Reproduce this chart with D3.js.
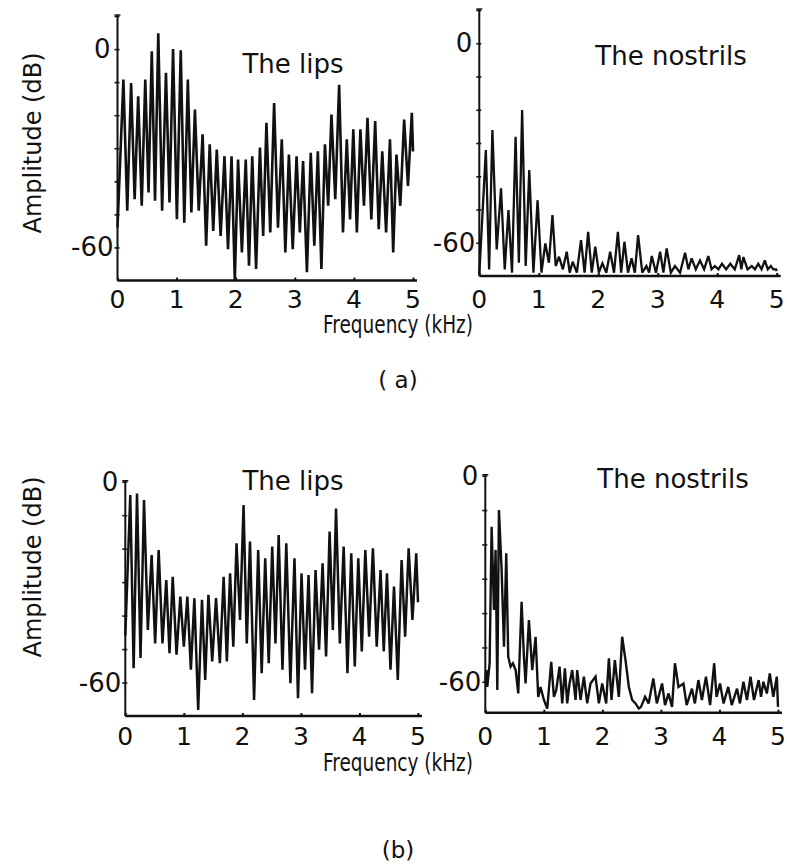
<!DOCTYPE html>
<html><head><meta charset="utf-8">
<script src="https://cdn.jsdelivr.net/npm/d3@7"></script>
<style>
body{margin:0;background:#fff}
svg{display:block}
text{font-family:"DejaVu Sans",sans-serif;fill:#111}
</style>
</head><body>
<svg id="c" width="787" height="867"></svg>
<script>
// ---------- data ----------
const xTickValues = [0, 1, 2, 3, 4, 5];
const yLabelValues = [0, -60];
const titles = ["The lips", "The nostrils"];
const partLabels = ["( a)", "(b)"];

// (a) lips: harmonic peaks (kHz, dB) and troughs between them (dB)
const lipsA_freq = [0.10,0.23,0.35,0.47,0.58,0.69,0.82,0.94,1.07,1.19,1.31,1.44,1.56,1.68,1.81,1.93,2.04,2.17,2.28,2.41,2.52,2.65,2.78,2.90,3.03,3.14,3.27,3.39,3.51,3.62,3.75,3.88,3.99,4.11,4.23,4.36,4.48,4.61,4.72,4.85,4.98];
const lipsA_peak = [-9.2,-10.3,-14.3,-9.2,-0.7,4.8,-7.2,0,-0.4,-9.2,-18.3,-25.8,-28.8,-30.4,-32.4,-32.4,-33.4,-33.4,-32.4,-29.8,-22.3,-16.3,-27.3,-31.9,-32.4,-33.9,-31.4,-30.9,-28.8,-19.8,-10.8,-27.3,-24.3,-24.3,-20.8,-21.8,-30.9,-27.3,-31.9,-21.3,-19.3];
const lipsA_trough = [-54,-48.9,-45.4,-47.4,-43.4,-45.9,-48.9,-46.4,-51.5,-52.5,-49.4,-48.9,-59.5,-55,-56.5,-60.5,-70,-61.5,-65.5,-66.5,-56.5,-55.5,-54,-61.5,-60.5,-55.5,-67.5,-59.5,-66.5,-47.4,-45.4,-55.5,-51.5,-55.5,-47.4,-51.5,-54.5,-55.5,-61.5,-47.4,-41.4,-31];

// (a) nostrils
const nosA_freq = [0.11,0.22,0.365,0.49,0.61,0.72,0.84,0.98,1.11,1.23,1.34,1.47,1.57,1.71,1.83,1.95,2.07,2.20,2.33,2.44,2.56,2.67,2.81,2.90,3.04,3.15,3.29,3.46,3.57,3.71,3.85,3.96,4.08,4.22,4.37,4.44,4.58,4.69,4.80,4.90,4.99];
const nosA_peak = [-32.1,-26.1,-43.6,-50.2,-28.1,-20.1,-38.1,-47.2,-60.2,-51.7,-64.2,-62.7,-65.7,-59.2,-56.7,-61.2,-66.2,-62.7,-56.7,-59.7,-64.7,-57.7,-67,-64,-62.7,-61.7,-67,-63,-64.7,-65.3,-64,-67,-66.3,-66.3,-63.7,-64.3,-67,-66.3,-65.3,-67,-68];
const nosA_trough = [-69.5,-68,-62,-68,-69,-66,-67,-69,-69,-66,-67,-68,-69,-69,-69,-69,-69,-69,-69,-69,-69,-69,-69,-69,-69,-69,-69,-69,-68,-68,-68,-68,-68,-68,-68,-68,-68,-68,-68,-68,-68,-68.5];

// (b) lips
const lipsB_freq = [0.085,0.20,0.32,0.45,0.57,0.70,0.81,0.94,1.06,1.18,1.31,1.42,1.55,1.68,1.79,1.90,2.02,2.13,2.27,2.39,2.51,2.62,2.75,2.89,3.01,3.13,3.25,3.37,3.49,3.60,3.73,3.86,3.98,4.10,4.23,4.36,4.47,4.59,4.72,4.84,4.97];
const lipsB_peak = [-4,-3.5,-5.5,-21.9,-20.4,-29.4,-28.4,-34.3,-34.3,-34.8,-35.3,-33.8,-34.8,-28.4,-27.4,-18.4,-7,-17.9,-20.4,-22.9,-19.4,-15.9,-18.4,-22.9,-27.4,-27.9,-26.4,-24.4,-14.9,-8,-19.4,-21.4,-22.9,-20.4,-19.9,-26.4,-27.4,-31.3,-23.4,-19.9,-21.4];
const lipsB_trough = [-46,-55.7,-52.7,-44.3,-48.3,-48.3,-51.2,-51.7,-49.3,-56.2,-68.2,-59.2,-53.7,-54.2,-53.7,-49.3,-41.3,-48.3,-65.2,-57.2,-54.2,-48.3,-56.2,-60.2,-64.7,-56.2,-63.2,-50.2,-52.2,-44.3,-48.3,-57.2,-55.2,-50.7,-46.3,-49.3,-50.7,-56.2,-59.2,-46.3,-41.3,-36];

// (b) nostrils: traced curve (kHz, dB)
const nosB_freq = [0,0.017,0.034,0.074,0.108,0.148,0.176,0.205,0.233,0.279,0.319,0.358,0.392,0.432,0.472,0.518,0.563,0.620,0.660,0.688,0.745,0.802,0.859,0.904,0.944,1.001,1.058,1.126,1.172,1.212,1.268,1.314,1.360,1.399,1.439,1.485,1.542,1.570,1.627,1.684,1.741,1.797,1.883,1.940,1.997,2.065,2.111,2.156,2.213,2.281,2.338,2.395,2.452,2.509,2.566,2.622,2.66,2.73,2.79,2.87,2.93,3.02,3.07,3.13,3.19,3.24,3.30,3.385,3.44,3.53,3.58,3.64,3.70,3.77,3.84,3.91,3.95,4.01,4.07,4.15,4.21,4.30,4.35,4.41,4.47,4.53,4.59,4.67,4.71,4.75,4.81,4.86,4.92,4.98,5.0];
const nosB_db = [-60,-56.6,-61.5,-54.6,-14.9,-39.1,-21.6,-62.4,-10,-27.5,-49.8,-22.6,-52.7,-55.6,-54.6,-56.6,-63.4,-36.7,-52.7,-60.5,-42,-56.6,-46.9,-64.4,-61.5,-65.3,-67.8,-54.2,-64.4,-62.4,-55.6,-66.3,-56.1,-66.3,-60.5,-56.6,-65.3,-56.6,-65.3,-58.5,-66.3,-60.5,-58.5,-66.3,-60.5,-66.3,-53.2,-65.3,-53.7,-64.4,-46.9,-53.7,-61.5,-65.3,-66.3,-67.8,-67.3,-64.4,-66.3,-59.0,-66.3,-60.5,-66.8,-63.4,-67.3,-54.6,-61.5,-60.5,-66.8,-62.0,-66.3,-59.5,-65.3,-58.5,-66.8,-54.6,-64.4,-60.5,-66.3,-61.5,-66.8,-62.0,-66.3,-60.0,-65.3,-58.5,-65.3,-59.5,-64.4,-60.0,-63.4,-57.6,-64.4,-58.5,-67.3];

// ---------- helpers ----------
function harmonicCurve(freq, peak, trough) {
  const pts = [[0, trough[0]]];
  for (let i = 0; i < freq.length; i++) {
    if (i > 0) pts.push([(freq[i-1] + freq[i]) / 2, trough[i]]);
    pts.push([freq[i], peak[i]]);
  }
  pts.push([Math.min(5, freq[freq.length-1] + 0.03), trough[freq.length]]);
  return pts;
}

// ---------- layout ----------
const panels = [
  {title: titles[0], pts: harmonicCurve(lipsA_freq, lipsA_peak, lipsA_trough),
   xr: [117.5, 413], yd: [-70, 10], yr: [280.5, 16], titleX: 293, titleY: 73, sw: 2.6, lblY: 299, freqY: 325},
  {title: titles[1], pts: harmonicCurve(nosA_freq, nosA_peak, nosA_trough),
   xr: [479.3, 776.7], yd: [-70, 10], yr: [276, 10], titleX: 671, titleY: 65, sw: 2.3, lblY: 299},
  {title: titles[0], pts: harmonicCurve(lipsB_freq, lipsB_peak, lipsB_trough),
   xr: [125.3, 418], yd: [-70, 0], yr: [716, 481.7], titleX: 293, titleY: 490, sw: 2.5, lblY: 736},
  {title: titles[1], pts: nosB_freq.map((f, i) => [f, nosB_db[i]]),
   xr: [485.3, 778], yd: [-69, 0], yr: [712.7, 475.7], titleX: 673, titleY: 488, sw: 2.4, lblY: 736}
];

const svg = d3.select("#c");
const ink = "#111";

panels.forEach((p, pi) => {
  const x = d3.scaleLinear().domain([0, 5]).range(p.xr);
  const y = d3.scaleLinear().domain(p.yd).range(p.yr);
  const g = svg.append("g");
  const x0 = x(0), yb = y(p.yd[0]), yt = y(p.yd[1]);

  // y axis with ticks every 10 dB on both sides
  const yTicks = d3.range(p.yd[1], -61, -10);
  g.append("g").attr("transform", `translate(${x0},0)`)
    .call(d3.axisLeft(y).tickValues(yTicks).tickSize(3).tickSizeOuter(0).tickFormat(""))
    .call(s => s.select(".domain").remove())
    .selectAll("line").attr("stroke", ink).attr("stroke-width", 1.6);
  g.append("g").attr("transform", `translate(${x0},0)`)
    .call(d3.axisRight(y).tickValues(yTicks).tickSize(2).tickSizeOuter(0).tickFormat(""))
    .call(s => s.select(".domain").remove())
    .selectAll("line").attr("stroke", ink).attr("stroke-width", 1.6);
  g.append("line").attr("x1", x0).attr("x2", x0).attr("y1", yt - 1).attr("y2", yb)
    .attr("stroke", ink).attr("stroke-width", 2);
  g.append("line").attr("x1", x0 - 3).attr("x2", x0 + 3).attr("y1", yt - 1).attr("y2", yt - 1)
    .attr("stroke", ink).attr("stroke-width", 1.4);

  // x axis
  g.append("g").attr("transform", `translate(0,${yb})`)
    .call(d3.axisTop(x).tickValues(xTickValues).tickSize(3).tickSizeOuter(0).tickFormat(""))
    .call(s => s.select(".domain").remove())
    .selectAll("line").attr("stroke", ink).attr("stroke-width", 2);
  g.append("line").attr("x1", x0).attr("x2", x(5) + 4).attr("y1", yb).attr("y2", yb)
    .attr("stroke", ink).attr("stroke-width", 2.6);

  // x tick labels
  g.selectAll(".xl").data(xTickValues).enter().append("text")
    .attr("x", d => x(d)).attr("y", p.lblY)
    .attr("text-anchor", "middle").attr("dominant-baseline", "central")
    .style("font-size", "25px").text(d => d);

  // y tick labels
  g.selectAll(".yl").data(yLabelValues).enter().append("text")
    .attr("x", d => d === 0 ? x0 - 7 : x0 - 4).attr("y", d => y(d))
    .attr("text-anchor", "end").attr("dominant-baseline", "central")
    .style("font-size", "26px").text(d => d === 0 ? "0" : "-60");

  // title
  g.append("text").attr("x", p.titleX).attr("y", p.titleY).attr("text-anchor", "middle")
    .style("font-size", "26px").text(p.title);

  // spectrum curve
  const line = d3.line().x(d => x(d[0])).y(d => y(Math.max(p.yd[0], d[1])));
  g.append("path").datum(p.pts).attr("d", line)
    .attr("fill", "none").attr("stroke", ink).attr("stroke-width", p.sw)
    .attr("stroke-linejoin", "miter").attr("stroke-miterlimit", 3);
});

// axis titles and part labels
[[143, 325, 380], [567, 763, 850]].forEach((pos, i) => {
  svg.append("text").attr("transform", `translate(33,${pos[0]}) rotate(-90)`)
    .attr("text-anchor", "middle").attr("dominant-baseline", "central")
    .style("font-size", "24px").text("Amplitude (dB)");
  svg.append("text").attr("x", 398).attr("y", pos[1])
    .attr("text-anchor", "middle").attr("dominant-baseline", "central")
    .attr("textLength", 150).attr("lengthAdjust", "spacingAndGlyphs")
    .style("font-size", "24px").text("Frequency (kHz)");
  svg.append("text").attr("x", 398).attr("y", pos[2])
    .attr("text-anchor", "middle").attr("dominant-baseline", "central")
    .style("font-size", "23px").text(partLabels[i]);
});
</script>
</body></html>
